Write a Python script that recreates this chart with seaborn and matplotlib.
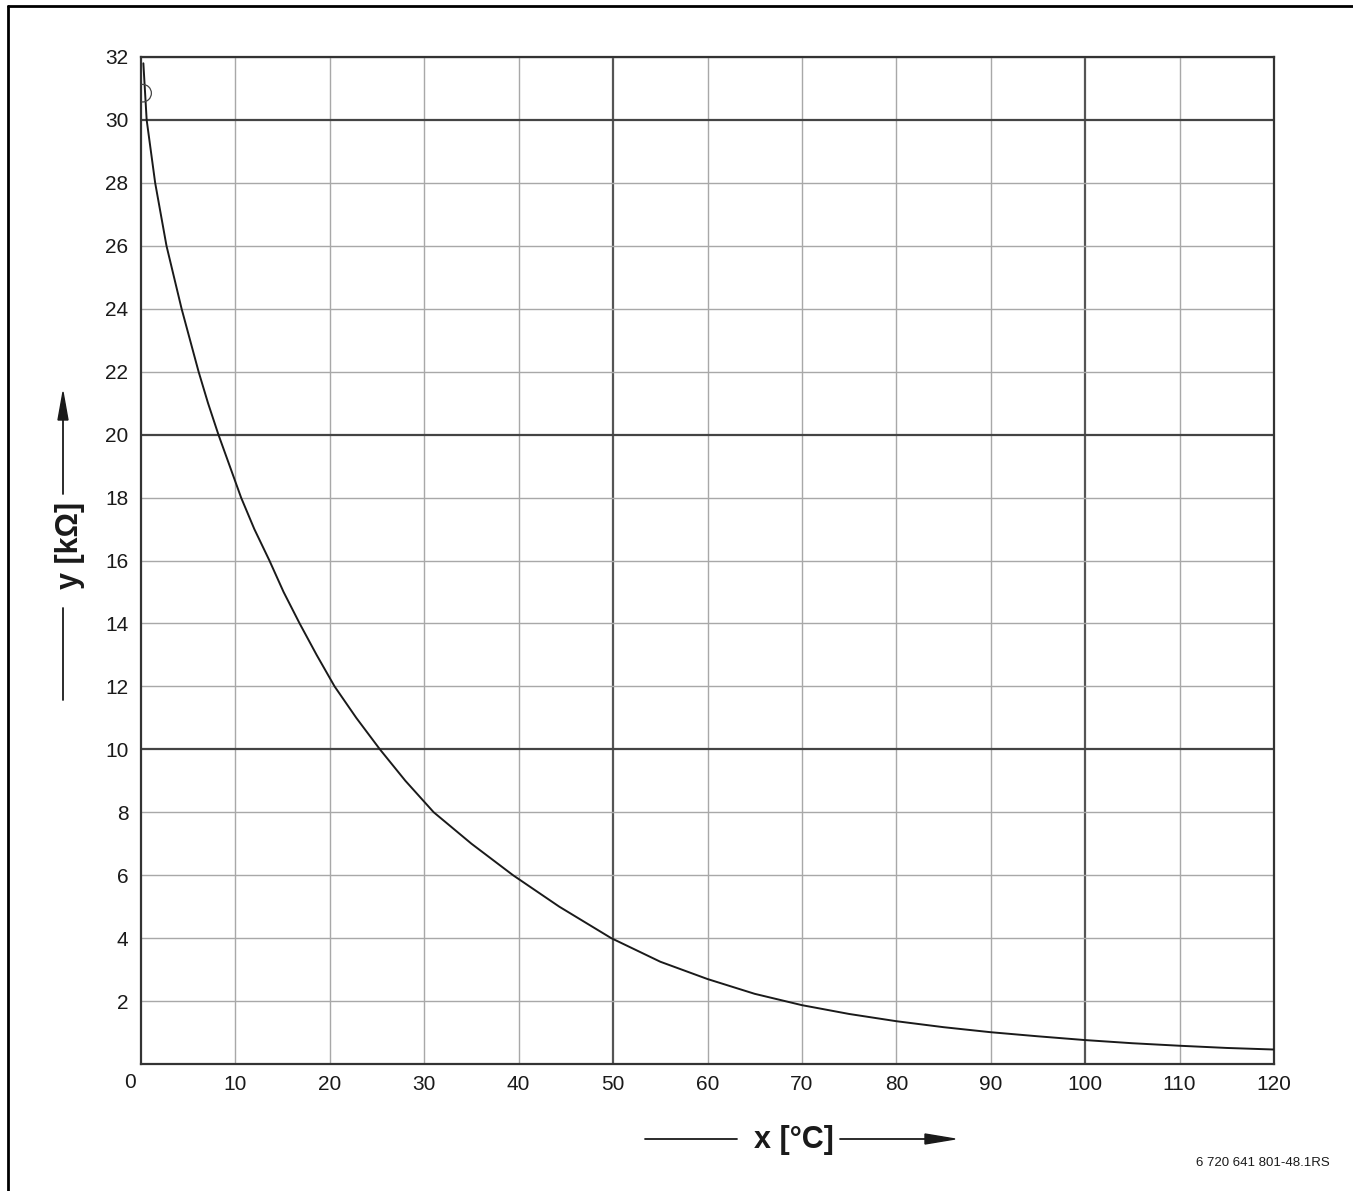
import numpy as np
import pandas as pd
import matplotlib
matplotlib.use('Agg')
import matplotlib.pyplot as plt
from matplotlib.lines import Line2D
import seaborn as sns

# Kennlinie Temperaturfühler
temperatura = [0.25, 0.6, 1.5, 2.7, 3.5, 4.3, 5.2, 6.1, 7.1, 8.2, 9.4, 10.6, 12.0, 13.6, 15.1,
               16.8, 18.6, 20.5, 22.8, 25.3, 28.0, 31.0, 35.0, 39.4, 44.3, 49.8, 55,
               60, 65, 70, 75, 80, 85, 90, 95, 100, 105, 110, 115, 120]
resistencia = [31.8, 30, 28, 26, 25, 24, 23, 22, 21, 20, 19, 18, 17, 16, 15,
               14, 13, 12, 11, 10, 9, 8, 7, 6, 5, 4, 3.25,
               2.7, 2.23, 1.87, 1.59, 1.36, 1.17, 1.01, 0.88, 0.76, 0.66, 0.58, 0.51, 0.46]

# ponto marcado com círculo
ponto_x = [0.17]
ponto_y = [30.85]

x_ticks = list(range(10, 121, 10))
y_ticks = list(range(2, 33, 2))
x_maiores = [50, 100]
y_maiores = [10, 20, 30]

df = pd.DataFrame({'x': temperatura, 'y': resistencia})

sns.set_theme(style='white')
plt.rcParams['font.family'] = ['Liberation Sans', 'DejaVu Sans']

fig = plt.figure(figsize=(13.53, 11.91), dpi=100)
ax = fig.add_axes([141 / 1353, 1 - 1064 / 1191, (1274 - 141) / 1353, (1064 - 57) / 1191])

# grade
for xv in x_ticks:
    maior = xv in x_maiores
    ax.axvline(xv, color='#555555' if maior else '#a8a8a8', lw=1.6 if maior else 1.0, zorder=1)
for yv in y_ticks:
    maior = yv in y_maiores
    ax.axhline(yv, color='#444444' if maior else '#a8a8a8', lw=1.6 if maior else 1.0, zorder=1)

sns.lineplot(data=df, x='x', y='y', ax=ax, color='#1a1a1a', lw=1.4, zorder=3)
ax.scatter(ponto_x, ponto_y, s=160, facecolors='none', edgecolors='#444444', lw=0.9, zorder=4)

ax.set_xlim(0, 120)
ax.set_ylim(0, 32)
ax.set_xticks(x_ticks)
ax.set_yticks(y_ticks)
ax.tick_params(axis='both', length=0, labelsize=15, colors='#1a1a1a')
ax.tick_params(axis='x', pad=8)
ax.tick_params(axis='y', pad=9)
ax.set_xlabel('')
ax.set_ylabel('')
for s in ax.spines.values():
    s.set_color('#333333')
    s.set_linewidth(1.6)

# "0" na origem
fig.text(130 / 1353, 1 - 1082 / 1191, '0', fontsize=15, color='#1a1a1a', ha='center', va='center')

# rótulos dos eixos com setas
fig.text(794 / 1353, 1 - 1140 / 1191, 'x [°C]', fontsize=22, fontweight='bold', ha='center', va='center', color='#1a1a1a')
fig.add_artist(Line2D([645 / 1353, 737 / 1353], [1 - 1139 / 1191] * 2, color='#1a1a1a', lw=1.3))
fig.add_artist(Line2D([840 / 1353, 930 / 1353], [1 - 1139 / 1191] * 2, color='#1a1a1a', lw=1.3))
fig.patches.append(plt.Polygon([[925 / 1353, 1 - 1134 / 1191], [955 / 1353, 1 - 1139 / 1191],
                                [925 / 1353, 1 - 1144 / 1191]], closed=True, color='#1a1a1a',
                               transform=fig.transFigure, figure=fig))

fig.text(70 / 1353, 1 - 545 / 1191, 'y [kΩ]', fontsize=22, fontweight='bold', rotation=90,
         ha='center', va='center', color='#1a1a1a')
fig.add_artist(Line2D([63 / 1353] * 2, [1 - 700 / 1191, 1 - 608 / 1191], color='#1a1a1a', lw=1.3))
fig.add_artist(Line2D([63 / 1353] * 2, [1 - 494 / 1191, 1 - 415 / 1191], color='#1a1a1a', lw=1.3))
fig.patches.append(plt.Polygon([[58 / 1353, 1 - 420 / 1191], [63 / 1353, 1 - 392 / 1191],
                                [68 / 1353, 1 - 420 / 1191]], closed=True, color='#1a1a1a',
                               transform=fig.transFigure, figure=fig))

# código do documento
fig.text(1330 / 1353, 1 - 1163 / 1191, '6 720 641 801-48.1RS', fontsize=9.5, ha='right', va='center', color='#1a1a1a')

# moldura (topo e esquerda)
fig.add_artist(Line2D([8 / 1353, 1.0], [1 - 6 / 1191] * 2, color='black', lw=2))
fig.add_artist(Line2D([8 / 1353] * 2, [0.0, 1 - 6 / 1191], color='black', lw=2))

fig.savefig('out.png', dpi=100, facecolor='white')
